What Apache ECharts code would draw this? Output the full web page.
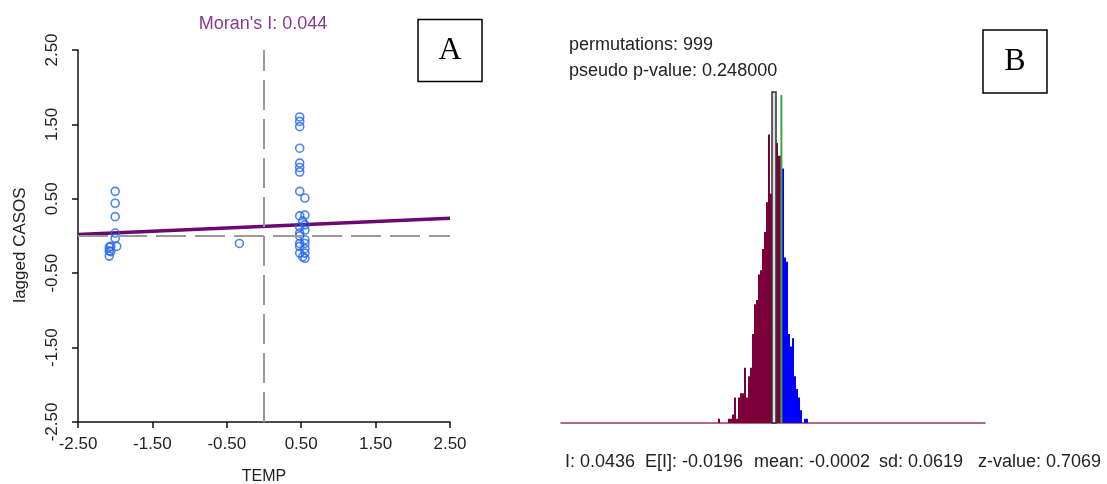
<!DOCTYPE html>
<html>
<head>
<meta charset="utf-8">
<script src="https://cdn.jsdelivr.net/npm/echarts@6/dist/echarts.min.js"></script>
<style>
html, body { margin: 0; padding: 0; background: #fff; }
#main { width: 1107px; height: 484px; }
</style>
</head>
<body>
<div id="main"></div>
<script>
// A: Moran scatter (TEMP vs lagged CASOS)
var tempX = [-2.00, -2.00, -2.00, -2.00, -2.00, -1.98, -2.06, -2.08, -2.08, -2.06, -2.08,
    -0.33,
    0.48, 0.48, 0.48, 0.48, 0.48, 0.48, 0.48, 0.48, 0.48, 0.48, 0.48, 0.48, 0.48, 0.48, 0.48,
    0.55, 0.55, 0.55, 0.55, 0.55, 0.55, 0.55, 0.55, 0.55, 0.52, 0.52];
var laggedY = [0.60, 0.44, 0.26, 0.04, -0.03, -0.14, -0.14, -0.15, -0.20, -0.21, -0.27,
    -0.10,
    1.60, 1.54, 1.47, 1.18, 0.98, 0.92, 0.86, 0.60, 0.27, 0.12, 0.04, 0.00, -0.10, -0.14, -0.23,
    0.51, 0.28, 0.15, 0.08, -0.05, -0.10, -0.17, -0.23, -0.30, -0.28, 0.20];
var regLineX = [-2.5, 2.5];
var regLineY = [0.02, 0.24];

// B: permutation histogram
var binStart = -0.218;
var binWidth = 0.008;
var binCounts = [0, 1, 0, 0, 0, 0, 1, 1, 2, 6, 1, 6, 7, 7, 13, 6, 11, 13, 21, 28,
    29, 35, 36, 41, 45, 52, 68, 54, null, null, 66, 63, 63, 60, 39, 38, 21, 18, 20, 11,
    8, 6, 3, 0, 1, 1];
var boxRange = [0.006, 0.022];
var boxCount = 78;
var observedI = 0.0436;
var observedTop = 77.3;

var statsText = ["I: 0.0436", "E[I]: -0.0196", "mean: -0.0002", "sd: 0.0619", "z-value: 0.7069"];
var statsX = [565, 645, 754, 879, 978];

var FONT = "Liberation Sans, Arial, sans-serif";

var scatterData = [];
for (var i = 0; i < tempX.length; i++) {
    scatterData.push([tempX[i], laggedY[i]]);
}

var histData = [];
for (var i = 0; i < binCounts.length; i++) {
    if (binCounts[i] == null) continue;
    var x0 = binStart + i * binWidth;
    histData.push([x0, x0 + binWidth, binCounts[i], x0 >= observedI ? 1 : 0]);
}
histData.push([boxRange[0], boxRange[1], boxCount, 2]);

function fmt2(v) { return v.toFixed(2); }

var axisColor = "#111";

var option = {
    animation: false,
    backgroundColor: "#fff",
    grid: [
        { left: 78, top: 50, width: 372, height: 372, outerBoundsMode: "none" },
        { left: 561, top: 92, width: 424, height: 331, outerBoundsMode: "none" }
    ],
    xAxis: [
        {
            gridIndex: 0, type: "value", min: -2.5, max: 2.5, interval: 1,
            axisLine: { onZero: false, lineStyle: { color: axisColor, width: 1.5 } },
            axisTick: { length: 6, lineStyle: { color: axisColor, width: 1.5 } },
            axisLabel: { margin: 14, color: "#222", fontSize: 17, fontFamily: FONT, formatter: fmt2 },
            splitLine: { show: false }
        },
        {
            gridIndex: 1, type: "value", min: -0.84, max: 0.86,
            axisLine: { onZero: false, lineStyle: { color: "#9a3466", width: 1.5 } },
            axisTick: { show: false },
            axisLabel: { show: false },
            splitLine: { show: false }
        }
    ],
    yAxis: [
        {
            gridIndex: 0, type: "value", min: -2.5, max: 2.5, interval: 1,
            axisLine: { onZero: false, lineStyle: { color: axisColor, width: 1.5 } },
            axisTick: { length: 6, lineStyle: { color: axisColor, width: 1.5 } },
            axisLabel: {
                rotate: 90, align: "center", verticalAlign: "middle", margin: 26,
                color: "#222", fontSize: 17, fontFamily: FONT, formatter: fmt2
            },
            splitLine: { show: false }
        },
        {
            gridIndex: 1, type: "value", min: 0, max: 78, show: false
        }
    ],
    series: [
        {
            // dashed reference lines at 0
            type: "line", xAxisIndex: 0, yAxisIndex: 0, data: [], z: 1,
            markLine: {
                silent: true, symbol: "none", label: { show: false },
                lineStyle: { type: [30, 9], color: "#9a9a9a", width: 2 },
                data: [{ xAxis: 0 }, { yAxis: 0 }]
            }
        },
        {
            type: "line", xAxisIndex: 0, yAxisIndex: 0, z: 2,
            data: [[regLineX[0], regLineY[0]], [regLineX[1], regLineY[1]]],
            showSymbol: false, symbol: "none",
            lineStyle: { color: "#6b0a6e", width: 3.5 }
        },
        {
            type: "scatter", xAxisIndex: 0, yAxisIndex: 0, z: 3,
            data: scatterData, symbol: "circle", symbolSize: 8,
            itemStyle: { color: "rgba(0,0,0,0)", borderColor: "#1f63f5", borderWidth: 1.6 }
        },
        {
            type: "custom", xAxisIndex: 1, yAxisIndex: 1, z: 2,
            data: histData,
            renderItem: function (params, api) {
                var p0 = api.coord([api.value(0), api.value(2)]);
                var p1 = api.coord([api.value(1), 0]);
                var kind = api.value(3);
                var left = Math.round(p0[0]);
                var right = Math.round(p1[0]);
                var style;
                if (kind == 2)
                    style = { fill: "#dedede", stroke: "#333", lineWidth: 1.5 };
                else
                    style = { fill: kind == 1 ? "#0000ff" : "#7b003a" };
                return {
                    type: "rect",
                    shape: { x: left, y: p0[1], width: right - left, height: p1[1] - p0[1] },
                    style: style
                };
            }
        },
        {
            type: "line", xAxisIndex: 1, yAxisIndex: 1, z: 3,
            data: [[observedI, 0], [observedI, observedTop]],
            showSymbol: false, symbol: "none",
            lineStyle: { color: "#3fa63f", width: 2 }
        }
    ],
    graphic: [
        { type: "text", x: 263, y: 24, style: { text: "Moran's I: 0.044", fill: "#873a8c", font: "18px " + FONT, align: "center", verticalAlign: "middle" } },
        { type: "text", x: 264, y: 477, style: { text: "TEMP", fill: "#222", font: "16px " + FONT, align: "center", verticalAlign: "middle" } },
        { type: "text", x: 20, y: 245, rotation: Math.PI / 2, style: { text: "lagged CASOS", fill: "#222", font: "17px " + FONT, align: "center", verticalAlign: "middle" } },
        { type: "rect", shape: { x: 418, y: 19.5, width: 64, height: 62 }, style: { fill: "none", stroke: "#000", lineWidth: 1.5 } },
        { type: "text", x: 450, y: 51, style: { text: "A", fill: "#000", font: "32px Liberation Serif, serif", align: "center", verticalAlign: "middle" } },
        { type: "rect", shape: { x: 983, y: 30, width: 64, height: 63 }, style: { fill: "none", stroke: "#000", lineWidth: 1.5 } },
        { type: "text", x: 1015, y: 62, style: { text: "B", fill: "#000", font: "32px Liberation Serif, serif", align: "center", verticalAlign: "middle" } },
        { type: "text", x: 569, y: 45, style: { text: "permutations: 999", fill: "#222", font: "18px " + FONT, align: "left", verticalAlign: "middle" } },
        { type: "text", x: 569, y: 71, style: { text: "pseudo p-value: 0.248000", fill: "#222", font: "18px " + FONT, align: "left", verticalAlign: "middle" } }
    ]
};

for (var i = 0; i < statsText.length; i++) {
    option.graphic.push({
        type: "text", x: statsX[i], y: 462,
        style: { text: statsText[i], fill: "#222", font: "18px " + FONT, align: "left", verticalAlign: "middle" }
    });
}

var myChart = echarts.init(document.getElementById("main"));
myChart.setOption(option);
</script>
</body>
</html>
